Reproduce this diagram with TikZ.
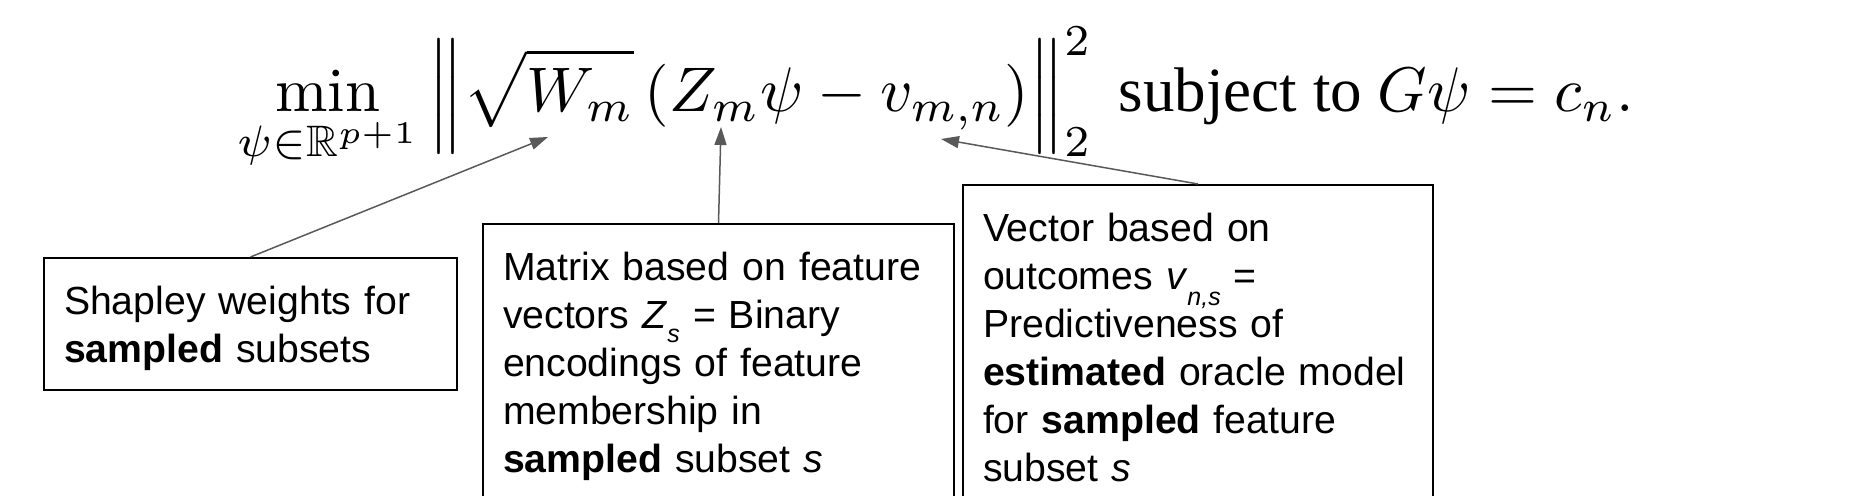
\documentclass[tikz,border=0pt]{standalone}
\usepackage{amsmath,amssymb}
\usepackage{graphicx}
\usepackage{fontspec}
\newfontfamily\notefont{Liberation Sans}
\newfontfamily\timesfont{Liberation Serif}
\usetikzlibrary{arrows.meta}

\begin{document}
\begin{tikzpicture}[x=0.5pt, y=-0.5pt,
    note/.style={draw=black, line width=1pt, anchor=north west, align=left,
      inner xsep=10pt, inner ysep=0pt, text height=28.5pt,
      font=\notefont\fontsize{19.6}{24}\selectfont},
    pointer/.style={-{Triangle[length=9pt, width=6pt]}, line width=0.75pt, black!65}]
  \useasboundingbox (0,0) rectangle (1865,496);
  \clip (0,0) rectangle (1865,496);
  % objective
  \node[anchor=base west, inner sep=0pt] (eqn) at (237,112)
    {\scalebox{3.15}{$\displaystyle \min_{\psi\in\mathbb{R}^{p+1}}
      \left\|\vrule height 11pt depth 5pt width 0pt
      \sqrt{W_m}\,(Z_m\psi - v_{m,n})\right\|_2^2
      \text{\timesfont\ subject to }G\psi = c_n.$}};
  % arrow targets
  \coordinate (wtip) at (548,137);
  \coordinate (ztip) at (721,127);
  \coordinate (vtip) at (941,139);
  % notes
  \node[note, text width=186.5pt, text depth=37.5pt] (weights) at (43,257)
    {Shapley weights for\\\textbf{sampled} subsets};
  \node[note, text width=215.5pt, text depth=160pt] (matrix) at (482,223)
    {Matrix based on feature\\
     vectors \textit{Z}\raisebox{-7pt}[0pt][0pt]{\fontsize{12.5}{12.5}\selectfont\itshape s} = Binary\\
     encodings of feature\\
     membership in\\
     \textbf{sampled} subset \textit{s}};
  \node[note, text width=215pt, text depth=190pt] (vector) at (962,184)
    {Vector based on\\
     outcomes \textit{v}\raisebox{-8pt}[0pt][0pt]{\fontsize{12.5}{12.5}\selectfont\itshape n,s} =\\
     Predictiveness of\\
     \textbf{estimated} oracle model\\
     for \textbf{sampled} feature\\
     subset \textit{s}};
  % pointers
  \draw[pointer] (weights.north) -- (wtip);
  \draw[pointer] (matrix.north) -- (ztip);
  \draw[pointer] (vector.north) -- (vtip);
\end{tikzpicture}
\end{document}
